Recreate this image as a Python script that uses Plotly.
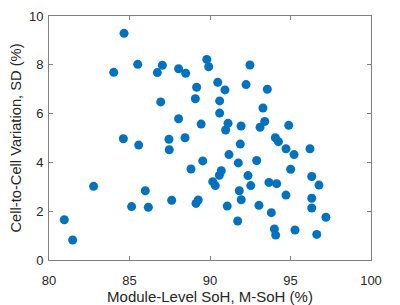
import plotly.graph_objects as go

msoh = [80.95, 81.47, 82.77, 85.13, 85.98, 86.17, 87.62, 87.47, 88.82, 89.13,
        89.27, 84.66, 84.02, 85.51, 86.73, 87.04, 88.05, 88.49, 89.17, 86.94,
        89.09, 88.05, 89.45, 84.62, 85.57, 87.45, 88.45, 89.80, 89.92, 92.48,
        90.48, 90.93, 92.24, 93.56, 90.60, 90.60, 93.29, 91.12, 90.97, 91.93,
        93.11, 93.40, 94.89, 91.88, 94.06, 94.25, 94.72, 96.21, 91.18, 89.55,
        91.76, 92.90, 95.22, 90.70, 90.58, 90.17, 90.33, 92.36, 92.53, 91.82,
        91.94, 91.07, 93.04, 91.72, 93.66, 94.14, 95.01, 94.72, 93.81, 94.00,
        94.08, 95.28, 96.32, 96.77, 96.32, 96.32, 97.20, 96.63]
sd = [1.65, 0.82, 3.02, 2.19, 2.84, 2.16, 2.45, 4.52, 3.73, 2.32,
      2.46, 9.29, 7.69, 8.02, 7.68, 7.98, 7.84, 7.65, 7.08, 6.48,
      6.61, 5.79, 5.57, 4.97, 4.71, 4.95, 5.01, 8.22, 7.92, 7.99,
      7.28, 6.97, 7.19, 7.00, 6.52, 6.02, 6.23, 5.60, 5.33, 5.49,
      5.44, 5.68, 5.52, 4.75, 5.01, 4.85, 4.56, 4.56, 4.32, 4.06,
      3.98, 4.08, 4.32, 3.66, 3.47, 3.21, 3.05, 3.46, 3.05, 2.84,
      2.47, 2.21, 2.24, 1.60, 3.18, 3.13, 3.72, 2.66, 1.94, 1.27,
      1.02, 1.23, 3.42, 3.07, 2.53, 2.13, 1.75, 1.05]

x_ticks = [80, 85, 90, 95, 100]
y_ticks = [0, 2, 4, 6, 8, 10]

FONT = "Liberation Sans, Arial, Helvetica"

fig = go.Figure(go.Scatter(
    x=msoh, y=sd, mode="markers",
    marker=dict(color="#0072BD", size=9, line=dict(width=0)),
))

axis_common = dict(
    showgrid=False, zeroline=False, showline=True, linecolor="#808080",
    linewidth=1, mirror="ticks", ticks="inside", ticklen=4, tickcolor="#808080",
    tickfont=dict(family=FONT, size=13, color="#262626"), automargin=False,
)

fig.update_layout(
    width=400, height=305,
    margin=dict(l=49, r=29, t=16, b=45),
    paper_bgcolor="white", plot_bgcolor="white",
    showlegend=False,
    xaxis=dict(range=[80, 100], tickvals=x_ticks, ticklabelstandoff=8, **axis_common,
               title=dict(text="Module-Level SoH, M-SoH (%)", standoff=7,
                          font=dict(family=FONT, size=15, color="#262626"))),
    yaxis=dict(range=[0, 10], tickvals=y_ticks, ticklabelstandoff=2, **axis_common,
               title=dict(text="Cell-to-Cell Variation, SD (%)", standoff=3,
                          font=dict(family=FONT, size=14.7, color="#262626"))),
)

fig.write_html("out.html", config={"displayModeBar": False},
               post_script="document.body.style.margin='0';")
